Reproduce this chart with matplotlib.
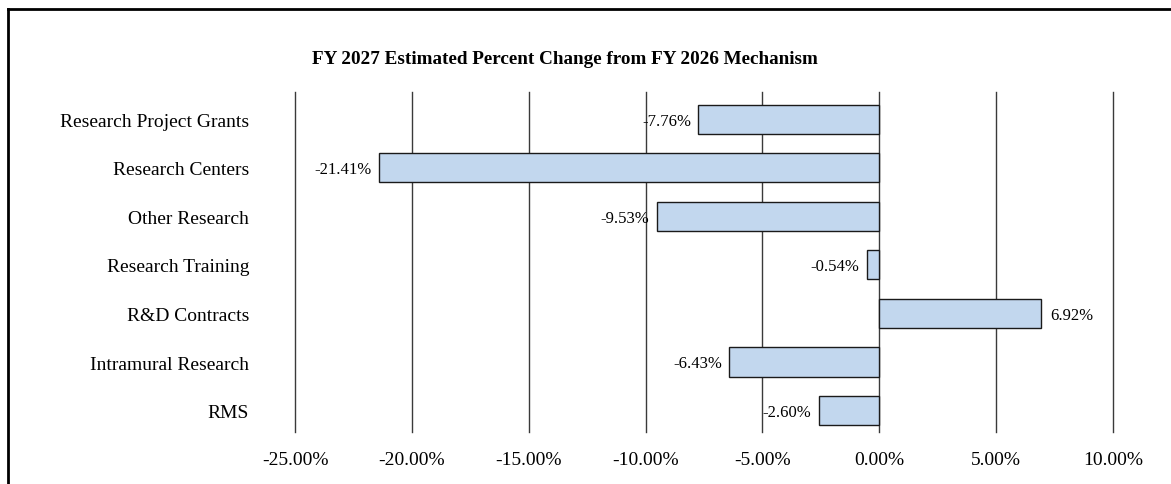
import matplotlib
matplotlib.use("Agg")
import matplotlib.pyplot as plt
from matplotlib.lines import Line2D

categories = ["Research Project Grants", "Research Centers", "Other Research",
              "Research Training", "R&D Contracts", "Intramural Research", "RMS"]
values = [-7.76, -21.41, -9.53, -0.54, 6.92, -6.43, -2.60]
xticks = [-25, -20, -15, -10, -5, 0, 5, 10]
title = "FY 2027 Estimated Percent Change from FY 2026 Mechanism"

plt.rcParams['font.family'] = ['Liberation Serif', 'DejaVu Serif']

W, H = 1171, 485
fig = plt.figure(figsize=(W / 100, H / 100), dpi=100)

ax = fig.add_axes([295 / W, 1 - 433 / H, 818 / W, 340 / H])
y = list(range(len(categories)))
ax.barh(y, values, height=0.6, color='#C2D7EE', edgecolor='#1a1a1a', linewidth=1.0, zorder=3)
ax.set_xlim(-25, 10)
ax.set_ylim(len(categories) - 0.56, -0.56)
ax.set_xticks(xticks)
ax.set_xticklabels([f"{t:.2f}%" for t in xticks], fontsize=14)
ax.set_yticks(y)
ax.set_yticklabels(categories, fontsize=14)
ax.tick_params(axis='y', length=0, pad=33)
ax.tick_params(axis='x', length=0, pad=14)
for s in ax.spines.values():
    s.set_visible(False)
for t in xticks:
    ax.axvline(t, color='#3a3a3a', linewidth=1.0, zorder=1, clip_on=False)

for yi, v in zip(y, values):
    if v < 0:
        ax.annotate(f"{v:.2f}%", (v, yi), xytext=(-5, -1), textcoords='offset points',
                    ha='right', va='center', fontsize=12, zorder=4)
    else:
        ax.annotate(f"{v:.2f}%", (v, yi), xytext=(7, -1), textcoords='offset points',
                    ha='left', va='center', fontsize=12, zorder=4)

fig.text(565 / W, 1 - 60 / H, title, ha='center', va='center', fontsize=13.8, fontweight='bold')

# outer frame (top and left visible)
fig.add_artist(Line2D([8 / W, 1.0], [1 - 10 / H, 1 - 10 / H], transform=fig.transFigure,
                      color='black', linewidth=2))
fig.add_artist(Line2D([8 / W, 8 / W], [1 - 10 / H, 0.0], transform=fig.transFigure,
                      color='black', linewidth=2))

fig.savefig("out.png", dpi=100)
